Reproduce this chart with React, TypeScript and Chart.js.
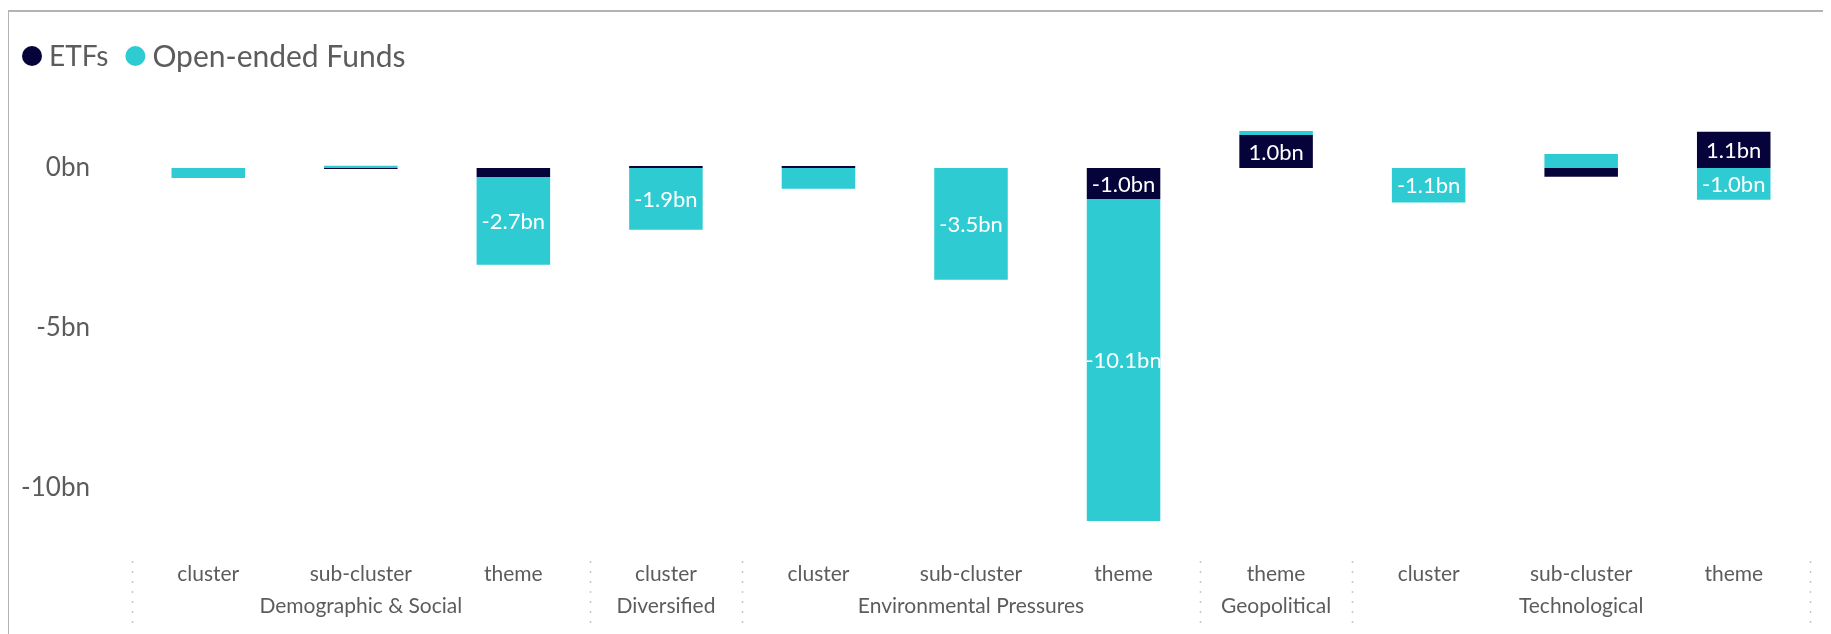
import React, { useEffect, useRef } from 'react';
import { Chart, registerables } from 'chart.js';

Chart.register(...registerables);

// ---- data ----
const levels = ['cluster', 'sub-cluster', 'theme', 'cluster', 'cluster', 'sub-cluster', 'theme', 'theme', 'cluster', 'sub-cluster', 'theme'];
const groupOf = ['Demographic & Social', 'Demographic & Social', 'Demographic & Social', 'Diversified', 'Environmental Pressures', 'Environmental Pressures', 'Environmental Pressures', 'Geopolitical', 'Technological', 'Technological', 'Technological'];
const etfFlows = [0, -0.03, -0.28, 0.06, 0.06, 0, -0.97, 1.03, 0, -0.27, 1.13];
const oefFlows = [-0.31, 0.07, -2.74, -1.93, -0.65, -3.49, -10.06, 0.13, -1.08, 0.44, -0.99];
const yTickValues = [0, -5, -10];
const seriesNames = ['ETFs', 'Open-ended Funds'];

const FONT = 'Lato, "Noto Sans", sans-serif';
const TEXT = '#5c5c5c';
const ETF_COLOR = '#06033a';
const OEF_COLOR = '#2ecbd3';
const LABEL_MIN = 0.9;

const fmt = (v: number) => `${v.toFixed(1)}bn`;

export default function App() {
  const ref = useRef<HTMLCanvasElement>(null);

  useEffect(() => {
    if (!ref.current) return;

    const legendPlugin = {
      id: 'customLegend',
      afterDraw(chart: any) {
        const ctx = chart.ctx;
        ctx.save();
        ctx.textBaseline = 'middle';
        ctx.textAlign = 'left';
        let x = 13;
        const y = 44;
        chart.data.datasets.forEach((ds: any, i: number) => {
          ctx.font = `${i === 0 ? 28 : 30}px ${FONT}`;
          ctx.fillStyle = ds.backgroundColor;
          ctx.beginPath();
          ctx.arc(x + 10, y, 10, 0, Math.PI * 2);
          ctx.fill();
          ctx.fillStyle = TEXT;
          ctx.fillText(ds.label, x + 27, y + 1);
          x += 27 + ctx.measureText(ds.label).width + 17;
        });
        ctx.restore();
      },
    };

    const barLabelPlugin = {
      id: 'barLabels',
      afterDatasetsDraw(chart: any) {
        const ctx = chart.ctx;
        ctx.save();
        ctx.font = `22px ${FONT}`;
        ctx.fillStyle = '#ffffff';
        ctx.textAlign = 'center';
        ctx.textBaseline = 'middle';
        chart.data.datasets.forEach((ds: any, di: number) => {
          const meta = chart.getDatasetMeta(di);
          meta.data.forEach((el: any, i: number) => {
            const v = ds.data[i];
            if (Math.abs(v) < LABEL_MIN) return;
            const cy = (el.y + el.base) / 2;
            ctx.fillText(fmt(v), el.x, cy + 1);
          });
        });
        ctx.restore();
      },
    };

    const groupPlugin = {
      id: 'groupLabels',
      afterDraw(chart: any) {
        const ctx = chart.ctx;
        const xs = chart.scales.x;
        const n = levels.length;
        const half = (xs.getPixelForValue(1) - xs.getPixelForValue(0)) / 2;
        ctx.save();
        ctx.font = `21px ${FONT}`;
        ctx.fillStyle = TEXT;
        ctx.textAlign = 'center';
        ctx.textBaseline = 'middle';
        const bounds: number[] = [];
        let start = 0;
        for (let i = 1; i <= n; i++) {
          if (i === n || groupOf[i] !== groupOf[start]) {
            const cx = (xs.getPixelForValue(start) + xs.getPixelForValue(i - 1)) / 2;
            ctx.fillText(groupOf[start], cx, 594);
            bounds.push(xs.getPixelForValue(start) - half);
            start = i;
          }
        }
        bounds.push(xs.getPixelForValue(n - 1) + half);
        ctx.strokeStyle = '#c8c8c8';
        ctx.lineWidth = 1.5;
        ctx.setLineDash([2, 8]);
        bounds.forEach((bx) => {
          const px = Math.round(bx) + 0.5;
          ctx.beginPath();
          ctx.moveTo(px, 549);
          ctx.lineTo(px, 614);
          ctx.stroke();
        });
        ctx.restore();
      },
    };

    const chart = new Chart(ref.current, {
      type: 'bar',
      data: {
        labels: levels,
        datasets: [
          { label: seriesNames[0], data: etfFlows, backgroundColor: ETF_COLOR, borderWidth: 0 },
          { label: seriesNames[1], data: oefFlows, backgroundColor: OEF_COLOR, borderWidth: 0 },
        ],
      },
      options: {
        animation: false,
        responsive: true,
        maintainAspectRatio: false,
        layout: { padding: { top: 76, right: 21, left: 0, bottom: 0 } },
        datasets: { bar: { barPercentage: 0.482, categoryPercentage: 1 } },
        plugins: {
          legend: { display: false },
          tooltip: { enabled: false },
        },
        scales: {
          x: {
            stacked: true,
            grid: { display: false, drawTicks: false },
            border: { display: false },
            ticks: { color: TEXT, font: { family: FONT, size: 21 }, padding: 10, maxRotation: 0, autoSkip: false },
            afterFit(scale: any) {
              scale.height = 82;
            },
          },
          y: {
            stacked: true,
            min: -12,
            max: 2.5,
            grid: { display: false, drawTicks: false },
            border: { display: false },
            afterBuildTicks(axis: any) {
              axis.ticks = yTickValues.map((v) => ({ value: v }));
            },
            ticks: {
              color: TEXT,
              font: { family: FONT, size: 26 },
              padding: 42,
              callback: (v: any) => `${v}bn`,
            },
            afterFit(scale: any) {
              scale.width = 123;
            },
          },
        },
      },
      plugins: [legendPlugin, barLabelPlugin, groupPlugin],
    });

    return () => chart.destroy();
  }, []);

  return (
    <div
      style={{
        borderTop: '2px solid #b3b3b3',
        borderLeft: '2px solid #b3b3b3',
        marginTop: 2,
        marginLeft: -1,
        marginRight: -8,
        background: '#ffffff',
      }}
    >
      <div style={{ position: 'relative', width: '100%', height: 622 }}>
        <canvas ref={ref} />
      </div>
    </div>
  );
}
